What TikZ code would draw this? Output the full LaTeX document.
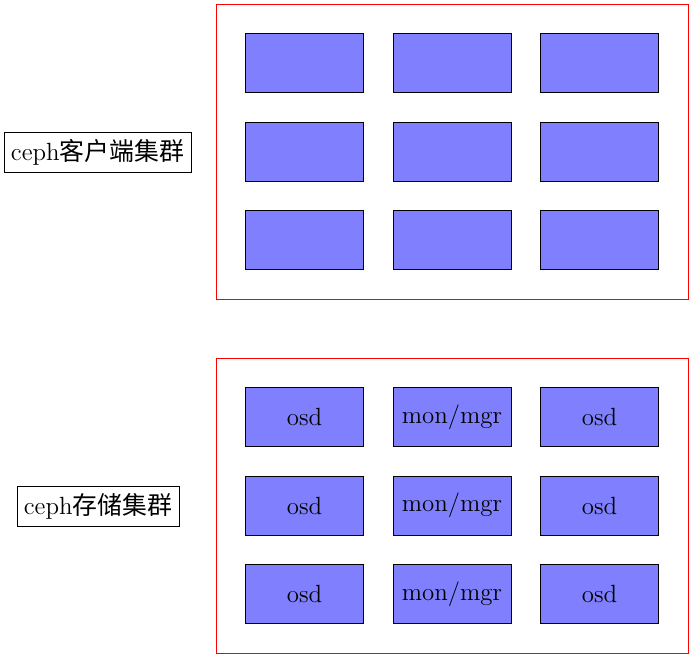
\documentclass[tikz,border=0pt]{standalone}
\usepackage{fontspec}
\newfontfamily\cjk{Noto Sans CJK SC}
\begin{document}
\begin{tikzpicture}[
  cell/.style={draw=black, fill=blue!50, minimum width=2cm, minimum height=1cm, inner sep=0pt, font=\fontsize{12}{14}\selectfont},
  frame/.style={draw=red, minimum width=8cm, minimum height=5cm, inner sep=0pt},
  lbl/.style={draw=black, font=\fontsize{12}{14}\selectfont}
]
\useasboundingbox (0,0) rectangle (11.763,-11.169);
% top cluster
\node[frame] (f1) at (7.661,-2.568) {};
\node[cell] (a11) at (5.161,-1.068) {};
\node[cell] (a12) at (7.661,-1.068) {};
\node[cell] (a13) at (10.161,-1.068) {};
\node[cell] (a21) at (5.161,-2.568) {};
\node[cell] (a22) at (7.661,-2.568) {};
\node[cell] (a23) at (10.161,-2.568) {};
\node[cell] (a31) at (5.161,-4.068) {};
\node[cell] (a32) at (7.661,-4.068) {};
\node[cell] (a33) at (10.161,-4.068) {};
\node[lbl] (l1) at (1.653,-2.585) {ceph{\cjk 客户端集群}};
% bottom cluster
\node[frame] (f2) at (7.661,-8.568) {};
\node[cell] (b11) at (5.161,-7.068) {osd};
\node[cell] (b12) at (7.661,-7.068) {mon/mgr};
\node[cell] (b13) at (10.161,-7.068) {osd};
\node[cell] (b21) at (5.161,-8.568) {osd};
\node[cell] (b22) at (7.661,-8.568) {mon/mgr};
\node[cell] (b23) at (10.161,-8.568) {osd};
\node[cell] (b31) at (5.161,-10.068) {osd};
\node[cell] (b32) at (7.661,-10.068) {mon/mgr};
\node[cell] (b33) at (10.161,-10.068) {osd};
\node[lbl] (l2) at (1.661,-8.585) {ceph{\cjk 存储集群}};
\end{tikzpicture}
\end{document}
